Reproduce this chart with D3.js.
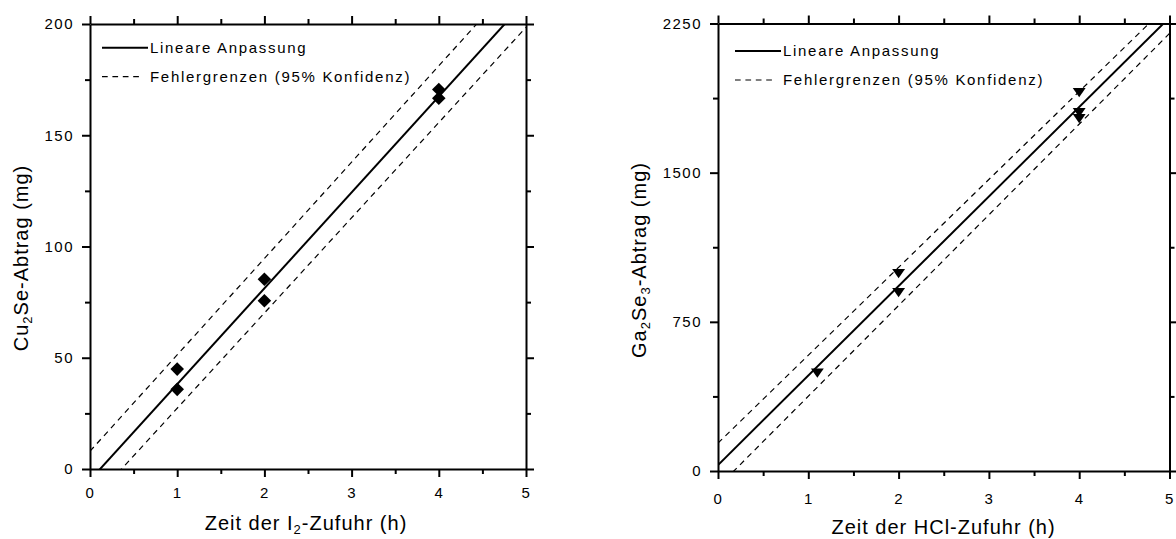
<!DOCTYPE html>
<html>
<head>
<meta charset="utf-8">
<script src="https://cdn.jsdelivr.net/npm/d3@7"></script>
<style>
  body { margin: 0; background: #fff; }
  svg text { font-family: "Liberation Sans", Arial, sans-serif; fill: #000; }
</style>
</head>
<body>
<svg id="chart" width="1176" height="539"></svg>
<script>
// Cu2Se removal vs. duration of I2 supply
const cuTime = [1, 1, 2, 2, 4, 4];
const cuMass = [44.9, 35.8, 85.3, 75.6, 170.6, 166.6];

// Ga2Se3 removal vs. duration of HCl supply
const gaTime = [1.1, 2, 2, 4, 4, 4];
const gaMass = [500, 1000, 905, 1910, 1810, 1780];

// linear fit and 95 % confidence limits, each as [intercept, slope]
const cuFit = [-5, 43.1];
const cuUpper = [8, 43.3];
const cuLower = [-15.5, 42.8];
const gaFit = [30, 450];
const gaUpper = [140, 442];
const gaLower = [-80, 456];

// tick values
const timeTicks = [0, 1, 2, 3, 4, 5];
const timeMinor = [0.5, 1.5, 2.5, 3.5, 4.5];
const cuTicks = [0, 50, 100, 150, 200];
const cuMinor = [25, 75, 125, 175];
const gaTicks = [0, 750, 1500, 2250];
const gaMinor = [375, 1125, 1875];

const legendLabels = ["Lineare Anpassung", "Fehlergrenzen (95% Konfidenz)"];

const svg = d3.select("#chart");

// writes a label made of [text, isSubscript] pieces into a <text> element
function richText(el, parts) {
  let lowered = false;
  parts.forEach(([s, sub]) => {
    const dy = sub && !lowered ? 4 : (!sub && lowered ? -4 : 0);
    lowered = sub;
    el.append("tspan").text(s).attr("dy", dy)
      .style("font-size", sub ? "13px" : "20px");
  });
}

function drawPanel(p) {
  const g = svg.append("g");
  const x = d3.scaleLinear().domain([0, 5]).range([p.left, p.right]);
  const y = d3.scaleLinear().domain([0, p.yMax]).range([p.bottom, p.top]);

  // clip region for the fit lines
  g.append("clipPath").attr("id", p.id + "-clip")
    .append("rect")
    .attr("x", p.left).attr("y", p.top)
    .attr("width", p.right - p.left).attr("height", p.bottom - p.top);

  const lineGen = d3.line().x(d => x(d[0])).y(d => y(d[1]));
  const linePts = c => [0, 5].map(t => [t, c[0] + c[1] * t]);

  const lines = g.append("g").attr("clip-path", `url(#${p.id}-clip)`);
  [p.upper, p.lower].forEach(c => {
    lines.append("path").attr("d", lineGen(linePts(c)))
      .attr("fill", "none").attr("stroke", "#000")
      .attr("stroke-width", 1.2).attr("stroke-dasharray", "5.7,4.7");
  });
  lines.append("path").attr("d", lineGen(linePts(p.fit)))
    .attr("fill", "none").attr("stroke", "#000").attr("stroke-width", 2);

  // markers
  const pts = p.xs.map((t, i) => [t, p.ys[i]]);
  g.append("g").selectAll("path").data(pts).join("path")
    .attr("d", d3.symbol(p.symbol, p.symbolSize))
    .attr("transform", d => `translate(${x(d[0])},${y(d[1])}) ${p.symbolTransform}`)
    .attr("fill", "#000");

  // axes
  const styleAxis = sel => {
    sel.attr("font-size", null).attr("font-family", null);
    sel.selectAll(".domain, .tick line").attr("stroke", "#000").attr("stroke-width", 2);
    sel.selectAll("text").style("font-size", "15px").style("letter-spacing", "1.5px");
  };
  const addAxis = (gen, scale, major, minor, tf, labels, pad) => {
    const a = g.append("g").attr("transform", tf);
    a.call(gen(scale).tickValues(major).tickSize(8).tickSizeOuter(0).tickPadding(pad)
      .tickFormat(labels ? d3.format("d") : ""));
    styleAxis(a);
    const m = g.append("g").attr("transform", tf);
    m.call(gen(scale).tickValues(minor).tickSize(5).tickSizeOuter(0).tickFormat(""));
    styleAxis(m);
    m.select(".domain").remove();
  };
  addAxis(d3.axisBottom, x, timeTicks, timeMinor, `translate(0,${p.bottom})`, true, p.xPad);
  addAxis(d3.axisTop, x, timeTicks, timeMinor, `translate(0,${p.top})`, false, 0);
  addAxis(d3.axisLeft, y, p.yTicks, p.yMinor, `translate(${p.left},0)`, true, 8);
  addAxis(d3.axisRight, y, p.yTicks, p.yMinor, `translate(${p.right},0)`, false, 0);

  // legend
  const lg = g.append("g");
  lg.append("line").attr("x1", p.legX).attr("x2", p.legX + 46)
    .attr("y1", p.legY).attr("y2", p.legY)
    .attr("stroke", "#000").attr("stroke-width", 2);
  lg.append("line").attr("x1", p.legX).attr("x2", p.legX + 38)
    .attr("y1", p.legY + 29).attr("y2", p.legY + 29)
    .attr("stroke", "#000").attr("stroke-width", 1.2).attr("stroke-dasharray", "5.7,4.7");
  legendLabels.forEach((t, i) => {
    lg.append("text").attr("x", p.legX + 48).attr("y", p.legY + 5 + i * 29)
      .style("font-size", "15px").style("letter-spacing", "1.7px").text(t);
  });

  // axis titles
  const xt = g.append("text").attr("x", p.xTitleX).attr("y", p.xTitleY)
    .attr("text-anchor", "middle").style("letter-spacing", "1px");
  richText(xt, p.xTitle);
  const yt = g.append("text")
    .attr("transform", `translate(${p.yTitleX},${p.yTitleY}) rotate(-90)`)
    .attr("text-anchor", "middle").style("letter-spacing", "1px");
  richText(yt, p.yTitle);
}

drawPanel({
  id: "cu", left: 90, right: 526, top: 24, bottom: 469, yMax: 200,
  yTicks: cuTicks, yMinor: cuMinor, xPad: 10,
  xs: cuTime, ys: cuMass, fit: cuFit, upper: cuUpper, lower: cuLower,
  symbol: d3.symbolSquare, symbolSize: 92, symbolTransform: "rotate(45)",
  legX: 102, legY: 47.7,
  xTitle: [["Zeit der I", false], ["2", true], ["-Zufuhr (h)", false]],
  xTitleX: 306, xTitleY: 530,
  yTitle: [["Cu", false], ["2", true], ["Se-Abtrag (mg)", false]],
  yTitleX: 28, yTitleY: 258
});

drawPanel({
  id: "ga", left: 718, right: 1169.5, top: 23.5, bottom: 471, yMax: 2250,
  yTicks: gaTicks, yMinor: gaMinor, xPad: 14,
  xs: gaTime, ys: gaMass, fit: gaFit, upper: gaUpper, lower: gaLower,
  symbol: d3.symbolTriangle, symbolSize: 50, symbolTransform: "scale(1.2,1) rotate(180)",
  legX: 735, legY: 51,
  xTitle: [["Zeit der HCl-Zufuhr (h)", false]],
  xTitleX: 943.5, xTitleY: 534,
  yTitle: [["Ga", false], ["2", true], ["Se", false], ["3", true], ["-Abtrag (mg)", false]],
  yTitleX: 646, yTitleY: 260
});
</script>
</body>
</html>
